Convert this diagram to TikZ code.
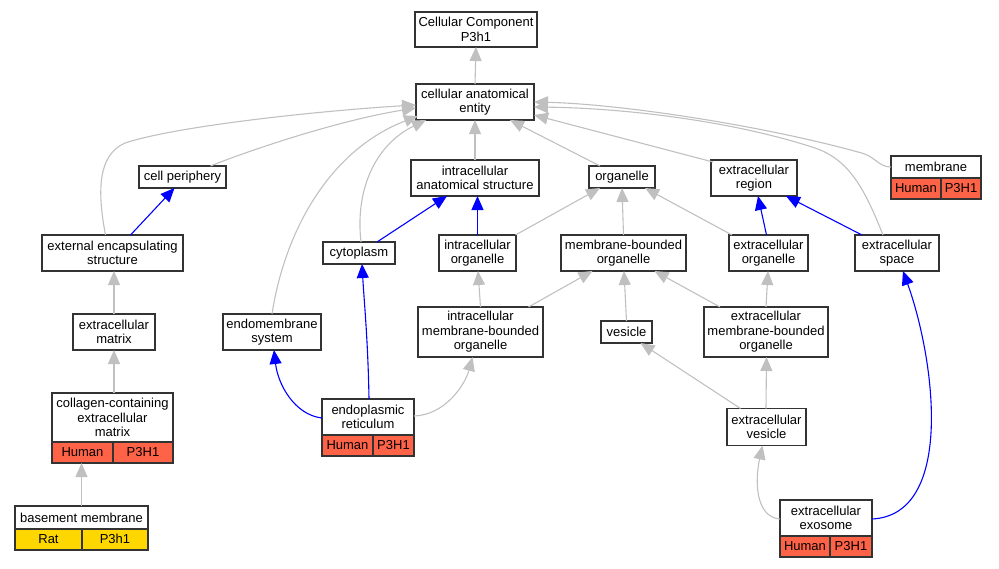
\documentclass[tikz,border=0pt]{standalone}
\usepackage{fontspec}
\setmainfont{Liberation Sans}
\usetikzlibrary{arrows.meta,calc}
\definecolor{edgegray}{RGB}{192,192,192}
\definecolor{tomatored}{RGB}{255,99,71}
\definecolor{goldyellow}{RGB}{255,215,0}
\tikzstyle{box}=[rectangle,fill=white,inner sep=0pt,outer sep=0pt,line width=1.2pt,draw=black!80,align=center,anchor=center,font=\fontsize{13}{14.5}\selectfont]
\tikzstyle{cell}=[box,minimum height=21pt,text height=9.5pt,text depth=2.5pt,anchor=north west]
\tikzstyle{isaedge}=[draw=edgegray,line width=1.1pt,-{Triangle[length=14pt,width=12pt]}]
\tikzstyle{partedge}=[draw=blue,line width=1.1pt,-{Triangle[length=14pt,width=12pt]}]
% two coloured cells under a term box
\newcommand{\taxonrow}[6]
{
  \node[cell, fill=#4, minimum width=#2](#1-l) at (#1.south west){#5};
  \node[cell, fill=#4, minimum width=#3](#1-r) at (#1-l.north east){#6};
}

\begin{document}
\begin{tikzpicture}[x=1pt,y=-1pt]
	\useasboundingbox (0,0) rectangle (999,568);

	% terms
	\node[box, minimum width=122pt, minimum height=35pt](cc) at (476,29.5){Cellular Component\\P3h1};
	\node[box, minimum width=118pt, minimum height=36pt](cae) at (475,102){cellular anatomical\\entity};
	\node[box, minimum width=87pt, minimum height=22pt](cp) at (182.5,177){cell periphery};
	\node[box, minimum width=128pt, minimum height=36pt](ias) at (475,178){intracellular\\anatomical structure};
	\node[box, minimum width=66pt, minimum height=22pt](org) at (622,177){organelle};
	\node[box, minimum width=86pt, minimum height=36pt](ecr) at (754,178){extracellular\\region};
	\node[box, minimum width=90pt, minimum height=22pt](mem) at (936,167){membrane};
	\node[box, minimum width=141pt, minimum height=36pt](ees) at (112.5,253){external encapsulating\\structure};
	\node[box, minimum width=72pt, minimum height=22pt](cyt) at (359,253){cytoplasm};
	\node[box, minimum width=77pt, minimum height=36pt](ico) at (477.5,253){intracellular\\organelle};
	\node[box, minimum width=125pt, minimum height=36pt](mbo) at (623.5,253){membrane-bounded\\organelle};
	\node[box, minimum width=79pt, minimum height=36pt](eco) at (768.5,253){extracellular\\organelle};
	\node[box, minimum width=84pt, minimum height=36pt](ecs) at (897,253){extracellular\\space};
	\node[box, minimum width=82pt, minimum height=36pt](ecm) at (114,332){extracellular\\matrix};
	\node[box, minimum width=98pt, minimum height=36pt](ems) at (272,332){endomembrane\\system};
	\node[box, minimum width=125pt, minimum height=50pt](imbo) at (480.5,332){intracellular\\membrane-bounded\\organelle};
	\node[box, minimum width=51pt, minimum height=22pt](ves) at (626.5,332){vesicle};
	\node[box, minimum width=124pt, minimum height=50pt](embo) at (766,332){extracellular\\membrane-bounded\\organelle};
	\node[box, minimum width=121pt, minimum height=49pt](col) at (112.5,417.5){collagen-containing\\extracellular\\matrix};
	\node[box, minimum width=92pt, minimum height=36pt](er) at (368,417){endoplasmic\\reticulum};
	\node[box, minimum width=79pt, minimum height=37pt](ecv) at (766.5,427){extracellular\\vesicle};
	\node[box, minimum width=133pt, minimum height=23pt](bm) at (81.5,517.5){basement membrane};
	\node[box, minimum width=92pt, minimum height=36pt](exo) at (826,518){extracellular\\exosome};

	% annotations
	\taxonrow{mem}{50pt}{40pt}{tomatored}{Human}{P3H1}
	\taxonrow{col}{61pt}{60pt}{tomatored}{Human}{P3H1}
	\taxonrow{er}{51pt}{41pt}{tomatored}{Human}{P3H1}
	\taxonrow{bm}{67pt}{66pt}{goldyellow}{Rat}{P3h1}
	\taxonrow{exo}{50pt}{42pt}{tomatored}{Human}{P3H1}

	% is_a edges
	\draw[isaedge] (cae.north) -- (cc.south);
	\draw[isaedge] ([xshift=28pt]cp.north) .. controls (250,150) and (340,120) .. ([yshift=-6pt]cae.west);
	\draw[isaedge] ([xshift=-7pt]ees.north) .. controls (97,190) and (98,155) .. (125,143) .. controls (180,125) and (330,110) .. ([yshift=-3pt]cae.west);
	\draw[isaedge] (ems.north) .. controls (285,230) and (330,150) .. ([xshift=2pt,yshift=4pt]cae.south west);
	\draw[isaedge] ([xshift=2pt]cyt.north) .. controls (355,190) and (375,145) .. ([xshift=10pt]cae.south west);
	\draw[isaedge] (ias.north) -- (cae.south);
	\draw[isaedge] ([xshift=-22pt]org.north) -- ([xshift=-24pt]cae.south east);
	\draw[isaedge] ([xshift=2pt,yshift=-2pt]ecr.north west) -- ([yshift=-13pt]cae.east);
	\draw[isaedge] (mem.west) .. controls (878,167) and (876,156) .. (858,152) .. controls (760,125) and (620,104) .. (cae.east);
	\draw[isaedge] ([xshift=-14pt]ecs.north) .. controls (865,190) and (850,160) .. (815,148) .. controls (730,120) and (620,108) .. ([yshift=-5pt]cae.east);
	\draw[isaedge] ([xshift=-0.5pt]ico.north east) -- ([xshift=-22pt]org.south);
	\draw[isaedge] (mbo.north) -- (org.south);
	\draw[isaedge] ([xshift=3pt]eco.north west) -- ([xshift=23pt]org.south);
	\draw[isaedge] ([xshift=1.5pt]ees.south |- ecm.north) -- ([xshift=1.5pt]ees.south);
	\draw[isaedge] ([xshift=1.5pt]col.north) -- (ecm.south);
	\draw[isaedge] (bm.north) -- (col-l.south east -| bm.north);
	\draw[isaedge] ([yshift=1pt]er.east) .. controls (445,415) and (465,385) .. ([xshift=-8pt]imbo.south);
	\draw[isaedge] (imbo.north) -- ([xshift=0.5pt]ico.south);
	\draw[isaedge] ([xshift=48pt]imbo.north) -- ([xshift=-31pt]mbo.south);
	\draw[isaedge] (ves.north) -- ([xshift=0.5pt]mbo.south);
	\draw[isaedge] ([xshift=-46pt]embo.north) -- ([xshift=31pt]mbo.south);
	\draw[isaedge] (embo.north) -- ([xshift=-0.5pt]eco.south);
	\draw[isaedge] ([xshift=-26pt]ecv.north) -- ([xshift=14pt]ves.south);
	\draw[isaedge] ([xshift=-0.5pt]ecv.south |- ecv.north) -- (ecv.north |- embo.south);
	\draw[isaedge] ([yshift=-1pt]exo.west) .. controls (755,517) and (755,480) .. ([xshift=-4pt]ecv.south);

	% part_of edges
	\draw[partedge] ([xshift=18pt]ees.north) -- ([xshift=-8pt]cp.south);
	\draw[partedge] ([xshift=18pt]cyt.north) -- ([xshift=-28pt]ias.south);
	\draw[partedge] (ico.north) -- (ico.north |- ias.south);
	\draw[partedge] ([xshift=-2pt]eco.north) -- ([xshift=4pt]ecr.south);
	\draw[partedge] ([xshift=-35pt]ecs.north) -- ([xshift=32pt]ecr.south);
	\draw[partedge] ([xshift=1pt]er.north) .. controls (368,340) and (364,300) .. ([xshift=3pt]cyt.south);
	\draw[partedge] ([yshift=-1pt]er.west) .. controls (295,415) and (278,385) .. ([xshift=2pt]ems.south);
	\draw[partedge] ([yshift=-1pt]exo.east) .. controls (955,515) and (935,360) .. ([xshift=6pt]ecs.south);

\end{tikzpicture}
\end{document}
